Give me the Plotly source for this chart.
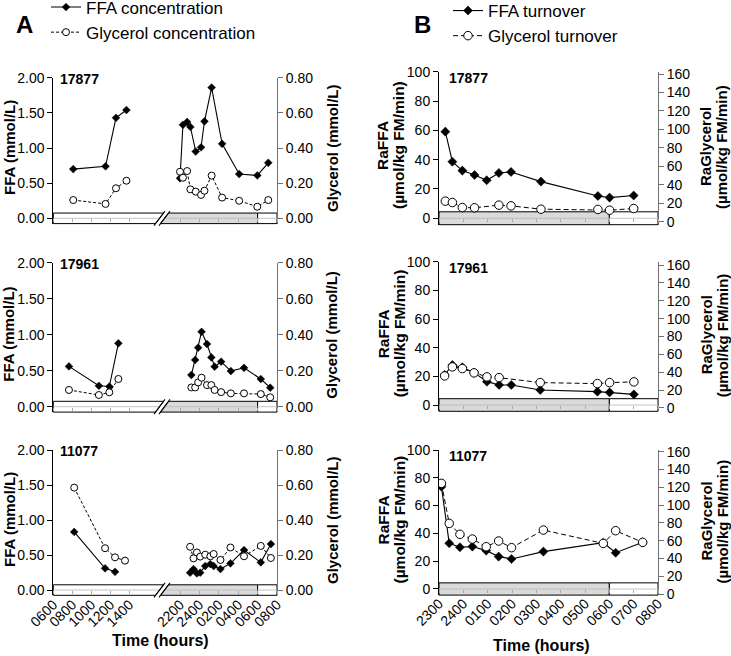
import plotly.graph_objects as go

W, H = 731, 656
FONT = "Liberation Sans, Arial, sans-serif"

# ---------------- data ----------------
ids = ["17877", "17961", "11077"]

# Panel A - plasma concentrations; time in clock hours (night values continue past 24)
A_day_t = [[8.1, 11.5, 12.6, 13.7],
           [7.65, 10.8, 11.9, 12.85],
           [8.2, 11.45, 12.5, 13.55]]
A_day_ffa = [[0.70, 0.74, 1.43, 1.54],
             [0.56, 0.29, 0.28, 0.88],
             [0.83, 0.31, 0.26, None]]
A_day_gly = [[0.104, 0.082, 0.171, 0.214],
             [0.093, 0.065, 0.080, 0.154],
             [0.585, 0.239, 0.187, 0.168]]

A_night_t = [[22.0, 22.3, 22.73, 23.07, 23.62, 24.17, 24.52, 25.26, 26.34, 28.1, 29.97, 31.1],
             [23.17, 23.56, 23.87, 24.22, 24.78, 25.23, 25.57, 26.24, 27.24, 28.6, 30.33, 31.3],
             [23.04, 23.39, 23.74, 24.08, 24.6, 25.13, 25.47, 26.17, 27.2, 28.6, 30.33, 31.37]]
A_night_ffa = [[0.57, 1.33, 1.37, 1.30, 0.95, 1.01, 1.38, 1.86, 1.06, 0.63, 0.61, 0.79],
               [0.44, 0.65, 0.82, 1.04, 0.87, 0.685, 0.556, 0.625, 0.495, 0.54, 0.384, 0.264],
               [0.248, 0.30, 0.238, 0.248, 0.343, 0.371, 0.343, 0.30, 0.381, 0.571, 0.395, 0.657]]
A_night_gly = [[0.265, 0.231, 0.269, 0.165, 0.152, 0.133, 0.157, 0.243, 0.118, 0.100, 0.066, 0.104],
               [0.107, 0.107, 0.135, 0.161, 0.120, 0.120, 0.093, 0.081, 0.074, 0.074, 0.070, 0.052],
               [0.247, 0.181, 0.215, 0.191, 0.202, 0.193, 0.206, 0.172, 0.243, 0.193, 0.252, 0.183]]

# Panel B - rates of appearance (umol/kg FM/min)
B_t = [[23.26, 23.55, 23.96, 24.46, 24.96, 25.46, 25.96, 27.19, 29.53, 30.01, 31.0],
       [23.23, 23.55, 23.96, 24.44, 24.97, 25.47, 25.97, 27.16, 29.51, 30.01, 31.01],
       [23.1, 23.42, 23.86, 24.37, 24.94, 25.45, 25.98, 27.29, 29.75, 30.26, 31.37]]
B_ffa = [[59.1, 38.6, 32.5, 29.5, 25.9, 30.9, 31.6, 25.0, 15.2, 14.1, 15.5],
         [21.0, 27.9, 26.3, 22.6, 16.3, 14.0, 14.0, 10.5, 9.3, 8.8, 7.4],
         [73.6, 32.9, 30.0, 30.5, 27.6, 23.3, 21.6, 26.9, 33.3, 26.1, 33.6]]
B_gly = [[22.4, 20.9, 15.5, 15.2, None, 18.1, 17.3, 13.7, 13.4, 12.6, 14.4],
         [35.9, 46.0, 44.1, 39.3, 34.8, 34.0, None, 28.4, 27.3, 28.4, 29.2],
         [124.4, 79.4, 67.1, 61.8, 53.2, 59.6, 52.1, 71.9, 56.9, 71.2, 58.1]]

A_day_ticks = [6, 8, 10, 12, 14]
A_day_labels = ["0600", "0800", "1000", "1200", "1400"]
A_night_ticks = [22, 24, 26, 28, 30, 32]
A_night_labels = ["2200", "2400", "0200", "0400", "0600", "0800"]
B_ticks = [23, 24, 25, 26, 27, 28, 29, 30, 31, 32]
B_labels = ["2300", "2400", "0100", "0200", "0300", "0400", "0500", "0600", "0700", "0800"]
A_ffa_ticks = [0, 0.5, 1.0, 1.5, 2.0]
A_gly_ticks = [0, 0.2, 0.4, 0.6, 0.8]
B_ffa_ticks = [0, 20, 40, 60, 80, 100]
B_gly_ticks = [0, 20, 40, 60, 80, 100, 120, 140, 160]
LIGHTS_ON = 30  # 0600 next morning

# ---------------- geometry (pixels) ----------------
A_rows = [(77.7, 223.6), (262.7, 412.1), (450.0, 595.3)]
B_rows = [(71.7, 224.7), (261.7, 411.3), (450.0, 595.1)]
A_L_dom = (53.3, 161.0)
A_L_rng = [6, 17.34]
A_R_dom = (158.0, 277.0)
A_R_rng = [19.73, 32]
B_dom = (439.0, 658.0)
B_rng = [23, 32]
A_yr = [-0.075, 2.0]
A_y2r = [-0.03, 0.8]
B_yr = [-4.4, 100]
B_y2r = [[-3.1, 162.5], [-3.7, 163.7], [-1.2, 161.9]]


def fx(p):
    return p / W


def fy(p):
    return 1 - p / H


def lin(v, r, d):
    return d[0] + (v - r[0]) / (r[1] - r[0]) * (d[1] - d[0])


def axid(c, k):
    return c if k == 1 else f"{c}{k}"


def axkey(c, k):
    return c + "axis" + ("" if k == 1 else str(k))


layout = dict(width=W, height=H, autosize=False,
              margin=dict(l=0, r=0, t=0, b=0, pad=0, autoexpand=False),
              paper_bgcolor="white", plot_bgcolor="rgba(0,0,0,0)",
              font=dict(family=FONT, color="black", size=14))
traces, shapes, annotations = [], [], []
cnt = {"x": 0, "y": 0}


def new(c):
    cnt[c] += 1
    return cnt[c]


def xcommon(last, fs):
    return dict(anchor="free", showline=False, showgrid=False, zeroline=False,
                ticks="outside", ticklen=3, tickcolor="#a8a8a8", tickwidth=1,
                tickangle=-45, showticklabels=last, ticklabelstandoff=-3,
                automargin=False,
                tickfont=dict(size=fs, family=FONT, color="black"))


def ycommon(color):
    return dict(showline=True, linecolor=color, linewidth=1, ticks="outside",
                ticklen=5, tickcolor=color, showgrid=False, zeroline=False,
                automargin=False,
                tickfont=dict(size=14, family=FONT, color="black"))


def line_shape(x0, y0, x1, y1, color="black", width=1):
    shapes.append(dict(type="line", xref="paper", yref="paper", x0=x0, y0=y0,
                       x1=x1, y1=y1, line=dict(color=color, width=width)))


def path_shape(pts, fill, width=1):
    d = "M " + " L ".join(f"{a:.5f},{b:.5f}" for a, b in pts) + " Z"
    shapes.append(dict(type="path", xref="paper", yref="paper", path=d,
                       fillcolor=fill, line=dict(color="black", width=width), layer="below"))


def ann(text, x, y, size, bold=False, angle=0, xanchor="center"):
    annotations.append(dict(text=f"<b>{text}</b>" if bold else text, x=fx(x), y=fy(y),
                            xref="paper", yref="paper", showarrow=False, textangle=angle,
                            xanchor=xanchor, yanchor="middle",
                            font=dict(size=size, family=FONT, color="black")))


def ffa_style(msize=6):
    return dict(mode="lines+markers", line=dict(color="black", width=1.1),
                marker=dict(symbol="diamond", size=msize, color="black",
                            line=dict(color="black", width=0.5)))


def gly_style(dash, msize):
    return dict(mode="lines+markers", line=dict(color="black", width=1, dash=dash),
                marker=dict(symbol="circle", size=msize, color="white",
                            line=dict(color="black", width=1)))


# ---------------- Panel A ----------------
for r in range(3):
    top, bot = A_rows[r]
    ydom = [fy(bot), fy(top)]
    zero = lin(0, A_yr, ydom)
    last = r == 2
    xl, xr, ya, yg = new("x"), new("x"), new("y"), new("y")
    layout[axkey("x", xl)] = dict(domain=[fx(A_L_dom[0]), fx(A_L_dom[1])], range=A_L_rng,
                                  position=zero, tickvals=A_day_ticks, ticktext=A_day_labels,
                                  **xcommon(last, 14))
    layout[axkey("x", xr)] = dict(domain=[fx(A_R_dom[0]), fx(A_R_dom[1])], range=A_R_rng,
                                  position=zero, tickvals=A_night_ticks, ticktext=A_night_labels,
                                  **xcommon(last, 14))
    layout[axkey("y", ya)] = dict(domain=ydom, range=A_yr, anchor=axid("x", xl), side="left",
                                  tickvals=A_ffa_ticks, tickformat=".2f", **ycommon("black"))
    layout[axkey("y", yg)] = dict(range=A_y2r, anchor=axid("x", xr), side="right",
                                  overlaying=axid("y", ya), tickvals=A_gly_ticks,
                                  tickformat=".2f", **ycommon("#707070"))
    first = r == 0
    traces.append(go.Scatter(x=A_day_t[r], y=A_day_ffa[r], xaxis=axid("x", xl), yaxis=axid("y", ya),
                             connectgaps=True, showlegend=False, **ffa_style()))
    traces.append(go.Scatter(x=A_night_t[r], y=A_night_ffa[r], xaxis=axid("x", xr), yaxis=axid("y", ya),
                             name="FFA concentration", legend="legend", legendgroup="a1",
                             showlegend=first, **ffa_style()))
    traces.append(go.Scatter(x=A_day_t[r], y=A_day_gly[r], xaxis=axid("x", xl), yaxis=axid("y", yg),
                             connectgaps=True, showlegend=False, **gly_style("3px,2px", 7)))
    traces.append(go.Scatter(x=A_night_t[r], y=A_night_gly[r], xaxis=axid("x", xr), yaxis=axid("y", yg),
                             name="Glycerol concentration", legend="legend", legendgroup="a2",
                             showlegend=first, **gly_style("3px,2px", 7)))

    # light/dark bar with axis break
    bt, bb = lin(-A_yr[0], A_yr, ydom), lin(A_yr[0], A_yr, ydom)
    ext = 2.0 / H
    s1b, s1t = fx(155.5), fx(163.5)
    s2b, s2t = fx(160.5), fx(168.5)
    xon = lin(LIGHTS_ON, A_R_rng, [fx(A_R_dom[0]), fx(A_R_dom[1])])
    xend = fx(A_R_dom[1])
    path_shape([(fx(A_L_dom[0]), bb), (s1b, bb), (s1t, bt), (fx(A_L_dom[0]), bt)], "white")
    path_shape([(s2b, bb), (xon, bb), (xon, bt), (s2t, bt)], "#dadada")
    path_shape([(xon, bb), (xend, bb), (xend, bt), (xon, bt)], "white")
    line_shape(fx(A_L_dom[0]), zero, (s1b + s1t) / 2, zero, "#c4c4c4")
    line_shape((s2b + s2t) / 2, zero, xon, zero, "#bdbdbd")
    line_shape(xon, zero, xend, zero, "#c4c4c4")
    dx = (s1t - s1b) * ext / (bt - bb)
    line_shape(s1b - dx, bb - ext, s1t + dx, bt + ext, "black", 1.1)
    line_shape(s2b - dx, bb - ext, s2t + dx, bt + ext, "black", 1.1)

    ann(ids[r], 58, top + 1, 14, bold=True, xanchor="left")
    zpx = bot - (bot - top) * (0 - A_yr[0]) / (A_yr[1] - A_yr[0])
    mid = (top + zpx) / 2
    ann("FFA (mmol/L)", 9, mid, 15, bold=True, angle=-90)
    ann("Glycerol (mmol/L)", 332, mid, 15, bold=True, angle=-90)

# ---------------- Panel B ----------------
for r in range(3):
    top, bot = B_rows[r]
    ydom = [fy(bot), fy(top)]
    zero = lin(0, B_yr, ydom)
    last = r == 2
    xb, yb, yg = new("x"), new("y"), new("y")
    layout[axkey("x", xb)] = dict(domain=[fx(B_dom[0]), fx(B_dom[1])], range=B_rng, position=zero,
                                  tickvals=B_ticks, ticktext=B_labels, **xcommon(last, 14))
    layout[axkey("y", yb)] = dict(domain=ydom, range=B_yr, anchor=axid("x", xb), side="left",
                                  tickvals=B_ffa_ticks, **ycommon("black"))
    layout[axkey("y", yg)] = dict(range=B_y2r[r], anchor=axid("x", xb), side="right",
                                  overlaying=axid("y", yb), tickvals=B_gly_ticks, **ycommon("#707070"))
    first = r == 0
    traces.append(go.Scatter(x=B_t[r], y=B_ffa[r], xaxis=axid("x", xb), yaxis=axid("y", yb),
                             name="FFA turnover", legend="legend2", legendgroup="b1",
                             showlegend=first, connectgaps=True, **ffa_style(msize=7)))
    traces.append(go.Scatter(x=B_t[r], y=B_gly[r], xaxis=axid("x", xb), yaxis=axid("y", yg),
                             name="Glycerol turnover", legend="legend2", legendgroup="b2",
                             showlegend=first, connectgaps=True, **gly_style("5px,3px", 8.5)))

    bt, bb = lin(-B_yr[0], B_yr, ydom), lin(B_yr[0], B_yr, ydom)
    x0, x1 = fx(B_dom[0]), fx(B_dom[1])
    xon = lin(LIGHTS_ON, B_rng, [x0, x1])
    path_shape([(x0, bb), (xon, bb), (xon, bt), (x0, bt)], "#dadada")
    path_shape([(xon, bb), (x1, bb), (x1, bt), (xon, bt)], "white")
    line_shape(x0, zero, xon, zero, "#bdbdbd")
    line_shape(xon, zero, x1, zero, "#c4c4c4")

    ann(ids[r], 447, top + 6, 14, bold=True, xanchor="left")
    zpx = bot - (bot - top) * (0 - B_yr[0]) / (B_yr[1] - B_yr[0])
    mid = (top + zpx) / 2
    ann("RaFFA", 383, mid, 15.5, bold=True, angle=-90)
    ann("(µmol/kg FM/min)", 399, mid, 15.5, bold=True, angle=-90)
    ann("RaGlycerol", 706, mid + 2, 15, bold=True, angle=-90)
    ann("(µmol/kg FM/min)", 722, mid + 2, 15, bold=True, angle=-90)

ann("A", 24, 24, 24, bold=True)
ann("B", 423, 24, 24, bold=True)
ann("Time (hours)", 160, 640, 16, bold=True)
ann("Time (hours)", 541, 645, 16, bold=True)

layout["legend"] = dict(x=fx(46), y=fy(-10.5), xanchor="left", yanchor="top",
                        font=dict(size=17, family=FONT, color="black"),
                        bgcolor="rgba(0,0,0,0)", tracegroupgap=0, itemwidth=30)
layout["legend2"] = dict(x=fx(448), y=fy(-7), xanchor="left", yanchor="top",
                         font=dict(size=17, family=FONT, color="black"),
                         bgcolor="rgba(0,0,0,0)", tracegroupgap=0, itemwidth=30)
layout["shapes"] = shapes
layout["annotations"] = annotations

fig = go.Figure(data=traces, layout=layout)
fig.write_html("out.html", config={"displayModeBar": False, "staticPlot": True},
               post_script="document.body.style.margin='0px';document.body.style.overflow='hidden';")
